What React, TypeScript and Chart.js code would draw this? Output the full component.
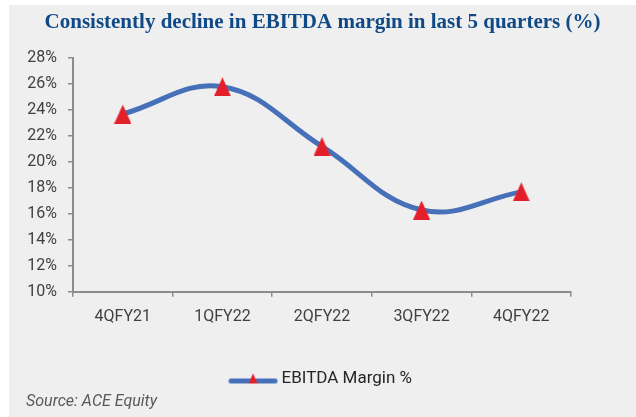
import { useEffect, useRef } from 'react';
import { Chart, registerables } from 'chart.js';

Chart.register(...registerables);

const categories = ['4QFY21', '1QFY22', '2QFY22', '3QFY22', '4QFY22'];
const ebitdaMargin = [23.7, 25.8, 21.2, 16.3, 17.7];
const yMin = 10;
const yMax = 28;
const yStep = 2;
const titleText = 'Consistently decline in EBITDA margin in last 5 quarters (%)';
const seriesLabel = 'EBITDA Margin %';
const sourceText = 'Source: ACE Equity';

const LINE_COLOR = '#4670b8';
const MARKER_COLOR = '#e3202a';
const AXIS_COLOR = '#8c8c8c';

function makeTriangle(w: number, h: number): HTMLCanvasElement {
  const c = document.createElement('canvas');
  c.width = w;
  c.height = h;
  const ctx = c.getContext('2d')!;
  ctx.fillStyle = MARKER_COLOR;
  ctx.beginPath();
  ctx.moveTo(w / 2, 0);
  ctx.lineTo(w, h);
  ctx.lineTo(0, h);
  ctx.closePath();
  ctx.fill();
  return c;
}

function makeLegendImage(): HTMLCanvasElement {
  const c = document.createElement('canvas');
  c.width = 50;
  c.height = 14;
  const ctx = c.getContext('2d')!;
  ctx.strokeStyle = LINE_COLOR;
  ctx.lineWidth = 5;
  ctx.lineCap = 'round';
  ctx.beginPath();
  ctx.moveTo(3, 9.5);
  ctx.lineTo(47, 9.5);
  ctx.stroke();
  ctx.fillStyle = MARKER_COLOR;
  ctx.beginPath();
  ctx.moveTo(25, 2);
  ctx.lineTo(29.5, 12);
  ctx.lineTo(20.5, 12);
  ctx.closePath();
  ctx.fill();
  return c;
}

const bgPlugin = {
  id: 'bgPlugin',
  beforeDraw(chart: any) {
    const { ctx, width, height } = chart;
    ctx.save();
    ctx.fillStyle = '#ffffff';
    ctx.fillRect(0, 0, width, height);
    ctx.fillStyle = '#efefef';
    ctx.fillRect(9, 5, width - 9, height - 5);
    ctx.restore();
  },
};

const sourcePlugin = {
  id: 'sourcePlugin',
  afterDraw(chart: any) {
    const { ctx } = chart;
    ctx.save();
    ctx.font = 'italic 16px Roboto';
    ctx.fillStyle = '#595959';
    ctx.textBaseline = 'alphabetic';
    ctx.textAlign = 'left';
    ctx.fillText(sourceText, 26, 406);
    ctx.restore();
  },
};

export default function App() {
  const ref = useRef<HTMLCanvasElement | null>(null);

  useEffect(() => {
    if (!ref.current) return;
    const tri = makeTriangle(17, 19);
    const legendImg = makeLegendImage();
    const chart = new Chart(ref.current, {
      type: 'line',
      data: {
        labels: categories,
        datasets: [
          {
            label: seriesLabel,
            data: ebitdaMargin,
            borderColor: LINE_COLOR,
            backgroundColor: MARKER_COLOR,
            borderWidth: 5,
            borderCapStyle: 'round',
            tension: 0.4,
            pointStyle: tri as any,
            pointRadius: 9,
            pointHoverRadius: 9,
          },
        ],
      },
      options: {
        animation: false,
        responsive: false,
        layout: { padding: { left: 9, top: 0, right: 0, bottom: 20 } },
        plugins: {
          title: {
            display: true,
            text: titleText,
            color: '#0f4a87',
            font: { family: 'Liberation Serif', size: 21, weight: 'bold' },
            padding: { top: 10, bottom: 23 },
          },
          legend: {
            position: 'bottom',
            labels: {
              usePointStyle: true,
              pointStyle: legendImg as any,
              pointStyleWidth: 40,
              color: '#262626',
              font: { family: 'Roboto', size: 17 },
              padding: 10,
            },
          },
          tooltip: { enabled: false },
        },
        scales: {
          x: {
            offset: true,
            grid: {
              drawOnChartArea: false,
              color: AXIS_COLOR,
              lineWidth: 1.5,
              tickLength: 5,
              offset: true,
            },
            border: { color: AXIS_COLOR, width: 2 },
            ticks: { color: '#404040', font: { family: 'Roboto', size: 16 }, padding: 11 },
            afterFit: (s: any) => {
              s.height += 22;
            },
          },
          y: {
            min: yMin,
            max: yMax,
            grid: {
              drawOnChartArea: false,
              color: AXIS_COLOR,
              lineWidth: 1.5,
              tickLength: 5,
            },
            border: { color: AXIS_COLOR, width: 2 },
            ticks: {
              stepSize: yStep,
              color: '#404040',
              font: { family: 'Roboto', size: 16 },
              padding: 11,
              callback: (v: any) => v + '%',
            },
            afterFit: (s: any) => {
              s.width = 64;
            },
          },
          yRight: {
            type: 'linear',
            position: 'right',
            display: true,
            grid: { display: false },
            border: { display: false },
            ticks: { display: false },
            afterFit: (s: any) => {
              s.width = 65;
            },
          },
        },
      },
      plugins: [bgPlugin, sourcePlugin],
    });
    return () => chart.destroy();
  }, []);

  return (
    <div style={{ position: 'absolute', left: 0, top: 0, width: 636, height: 417 }}>
      <canvas ref={ref} width={636} height={417} style={{ display: 'block' }} />
    </div>
  );
}
